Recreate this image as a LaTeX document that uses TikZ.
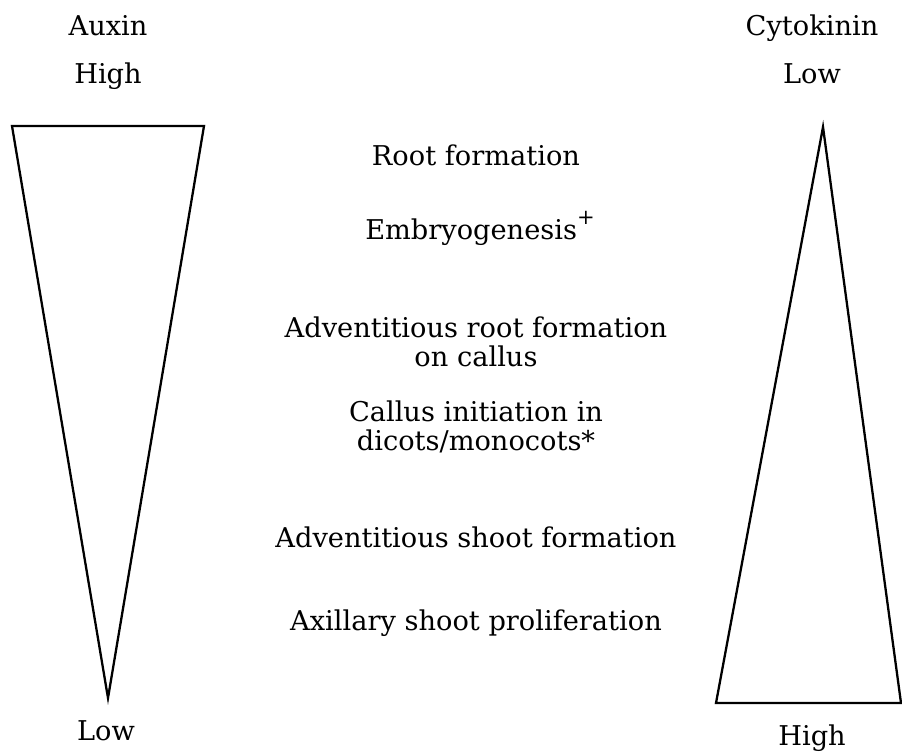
\documentclass[tikz,border=0pt]{standalone}
\usepackage{fontspec}
\setmainfont{DejaVu Serif}
\begin{document}
\begin{tikzpicture}[x=0.02cm, y=-0.02cm,
    every node/.style={align=center, inner sep=0pt, font=\fontsize{15.5}{16.4}\selectfont},
    wedge/.style={draw=black, line width=1.3pt, line join=miter}]
  \useasboundingbox (0,0) rectangle (902,752);

  % Auxin side
  \node[anchor=base] (auxin) at (108,35) {Auxin};
  \node[anchor=base] (auxhigh) at (108,83) {High};
  \node[anchor=base] (auxlow) at (106,740) {Low};
  \draw[wedge] (12,126) -- (204,126) -- (108,698) -- cycle;

  % Cytokinin side
  \node[anchor=base] (cyto) at (812,35) {Cytokinin};
  \node[anchor=base] (cytlow) at (812,83) {Low};
  \node[anchor=base] (cythigh) at (812,745) {High};
  \draw[wedge] (823,127) -- (901,703) -- (716,703) -- cycle;

  % Responses
  \node[anchor=base] (root) at (476,165) {Root formation};
  \node[anchor=base] (embryo) at (480,239) {Embryogenesis\raisebox{0.55em}{\fontsize{12}{12}\selectfont +}};
  \node (advroot) at (476,342) {Adventitious root formation\\on callus};
  \node (callus) at (476,427) {Callus initiation in\\dicots/monocots*};
  \node[anchor=base] (advshoot) at (476,547) {Adventitious shoot formation};
  \node[anchor=base] (axshoot) at (476,630) {Axillary shoot proliferation};
\end{tikzpicture}
\end{document}
